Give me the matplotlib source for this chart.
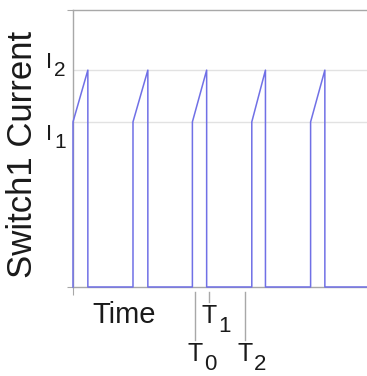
import matplotlib
matplotlib.use('Agg')
import matplotlib.pyplot as plt

plt.rcParams['font.family'] = ['Liberation Sans', 'DejaVu Sans']

# current levels (fraction of full scale)
I1 = 0.596
I2 = 0.783
level_labels = ['1', '2']

# switching instants
rise_times = [0.0, 10.1, 20.1, 30.1, 40.0]
fall_times = [2.5, 12.6, 22.5, 32.4, 42.4]
t_end = 50.0

# time markers under the axis
mark_times = [20.6, 22.9, 29.0]
mark_labels = ['0', '1', '2']

# build the switch current trace
t = []
i = []
for r, f in zip(rise_times, fall_times):
    t += [r, r, f, f]
    i += [0, I1, I2, 0]
t.append(t_end)
i.append(0)

fig = plt.figure(figsize=(3.67, 3.76), dpi=100)
# axes run a little past the right edge so the figure crops them
ax = fig.add_axes([73 / 367, 89 / 376, 297 / 367, 277 / 376])

blue = '#7070e6'
gray = '#a8a8a8'
txt = '#1a1a1a'

ax.axhline(I1, color='#e2e2e2', lw=1, zorder=1)
ax.axhline(I2, color='#e2e2e2', lw=1, zorder=1)
ax.plot(t, i, color=blue, lw=1.1, zorder=3, clip_on=False)

ax.set_xlim(0, t_end)
ax.set_ylim(0, 1)

for s in ['left', 'bottom', 'top']:
    ax.spines[s].set_color(gray)
    ax.spines[s].set_linewidth(1)
ax.spines['right'].set_visible(False)

ax.set_xticks([0])
ax.set_xticklabels([''])
ax.set_yticks([0, 1])
ax.set_yticklabels(['', ''])
ax.tick_params(axis='x', length=6, color=gray, direction='out')
ax.tick_params(axis='y', length=4.5, color=gray, direction='out')

# level labels I1, I2
for lev, lab, dy in [(I1, level_labels[0], -18), (I2, level_labels[1], 2)]:
    ax.annotate('I', xy=(0, lev), xycoords=('axes fraction', 'data'),
                xytext=(-27, dy), textcoords='offset pixels',
                ha='left', va='baseline', fontsize=16, color=txt)
    ax.annotate(lab, xy=(0, lev), xycoords=('axes fraction', 'data'),
                xytext=(-19, dy - 8), textcoords='offset pixels',
                ha='left', va='baseline', fontsize=15, color=txt)

# time markers T0, T1, T2
for tm, lab in zip(mark_times, mark_labels):
    long = lab != '1'
    y_low = -0.191 if long else -0.054
    ax.plot([tm, tm], [-0.018, y_low], color=gray, lw=1,
            transform=ax.get_xaxis_transform(), clip_on=False)
    base = -74 if long else -36
    ax.annotate('T', xy=(tm, 0), xycoords=('data', 'axes fraction'),
                xytext=(0, base), textcoords='offset pixels',
                ha='center', va='baseline', fontsize=18, color=txt)
    ax.annotate(lab, xy=(tm, 0), xycoords=('data', 'axes fraction'),
                xytext=(9, base - 9), textcoords='offset pixels',
                ha='left', va='baseline', fontsize=16, color=txt)

ax.annotate('Time', xy=(0, 0), xycoords='axes fraction',
            xytext=(19, -36), textcoords='offset pixels',
            ha='left', va='baseline', fontsize=21, color=txt)

fig.text(0.062, 0.588, 'Switch1 Current', rotation=90, ha='center',
         va='center', fontsize=25, color=txt)

fig.savefig('out.png', dpi=100)
